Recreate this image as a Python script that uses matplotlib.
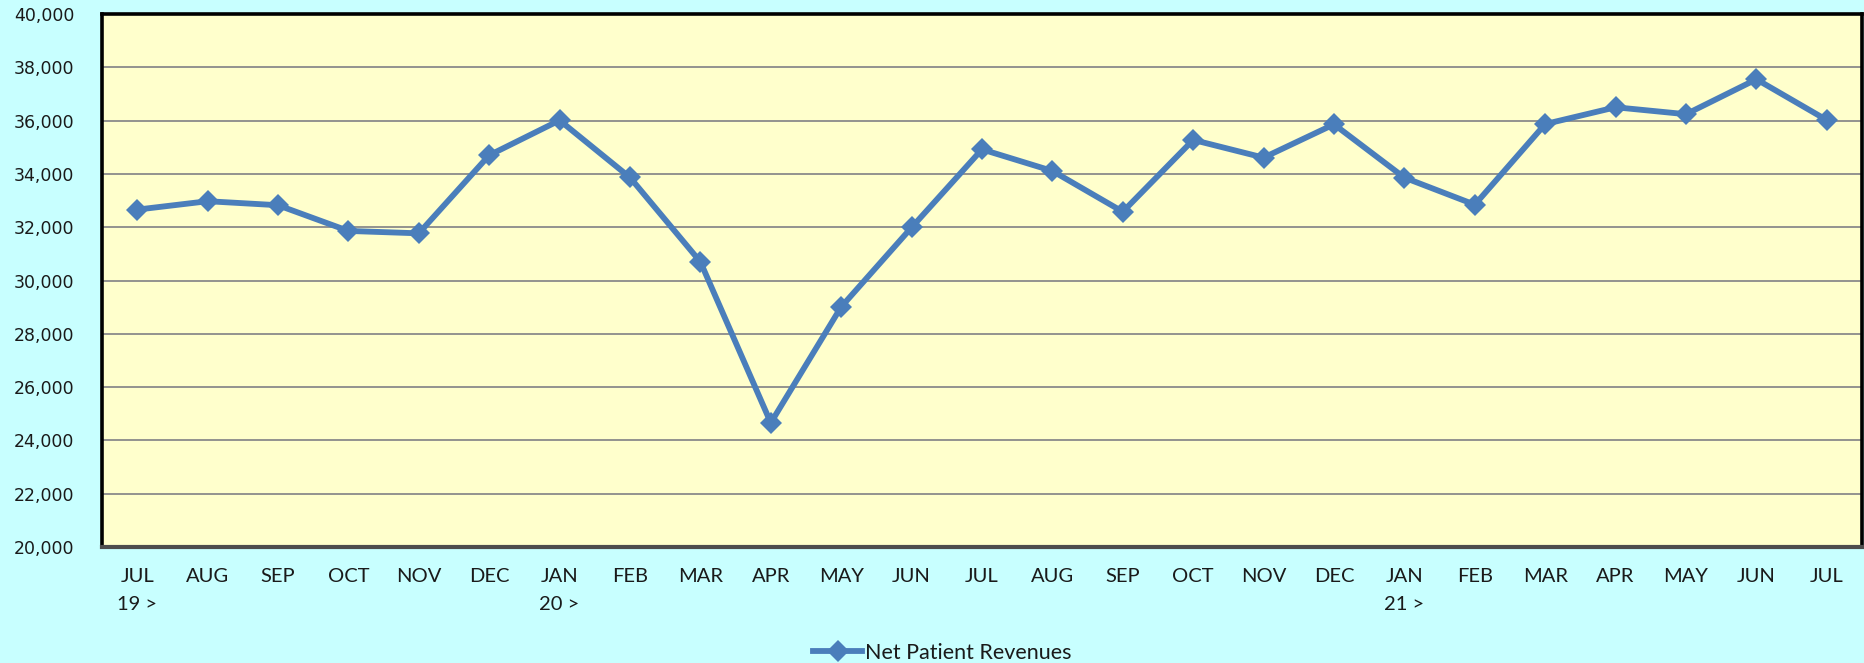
import matplotlib
matplotlib.use('Agg')
import matplotlib.pyplot as plt

### Data
months = ['JUL\n19 >', 'AUG', 'SEP', 'OCT', 'NOV', 'DEC', 'JAN\n20 >', 'FEB', 'MAR', 'APR',
          'MAY', 'JUN', 'JUL', 'AUG', 'SEP', 'OCT', 'NOV', 'DEC', 'JAN\n21 >', 'FEB',
          'MAR', 'APR', 'MAY', 'JUN', 'JUL']
net_patient_revenues = [32660, 32975, 32825, 31860, 31770, 34700, 36010, 33865, 30700, 24660,
                        29010, 31990, 34920, 34110, 32580, 35275, 34610, 35860, 33860, 32845,
                        35870, 36500, 36240, 37550, 36020]
y_ticks = list(range(20000, 40001, 2000))
series_name = 'Net Patient Revenues'

### Styling
fig_bg = '#C8FFFF'
plot_bg = '#FFFFCC'
line_color = '#4A7EBB'

fig = plt.figure(figsize=(18.64, 6.63), dpi=100, facecolor=fig_bg)
ax = fig.add_axes([102 / 1864, 116 / 663, 1760 / 1864, 533 / 663])
ax.set_facecolor(plot_bg)

x = list(range(len(months)))
ax.plot(x, net_patient_revenues, color=line_color, lw=4.2, marker='D', ms=11,
        mew=0, label=series_name, zorder=3, solid_joinstyle='miter')

ax.set_xlim(-0.5, len(months) - 0.5)
ax.set_ylim(20000, 40000)
ax.set_yticks(y_ticks)
ax.set_yticklabels([f'{v:,}' for v in y_ticks], fontsize=12.5, family='DejaVu Sans', color='#1a1a1a')
ax.set_xticks(x)
ax.set_xticklabels(months, fontsize=14.5, family='Lato', color='#1a1a1a', linespacing=1.8)
ax.tick_params(axis='y', length=0, pad=20)
ax.tick_params(axis='x', length=0, pad=15)
for lbl in ax.get_xticklabels():
    lbl.set_verticalalignment('top')

ax.grid(axis='y', color='#8a8a8a', lw=1.3)
ax.set_axisbelow(True)

for side in ['left', 'top', 'right']:
    ax.spines[side].set_color('black')
    ax.spines[side].set_linewidth(2.6)
ax.spines['bottom'].set_color('#4d4d4d')
ax.spines['bottom'].set_linewidth(3)

fig.legend(loc='center', bbox_to_anchor=(942 / 1864, 10 / 663), frameon=False,
           prop={'family': 'Lato', 'size': 15.5}, handlelength=2.3, handletextpad=0.1,
           labelcolor='#1a1a1a')

fig.savefig('out.png', dpi=100, facecolor=fig_bg)
